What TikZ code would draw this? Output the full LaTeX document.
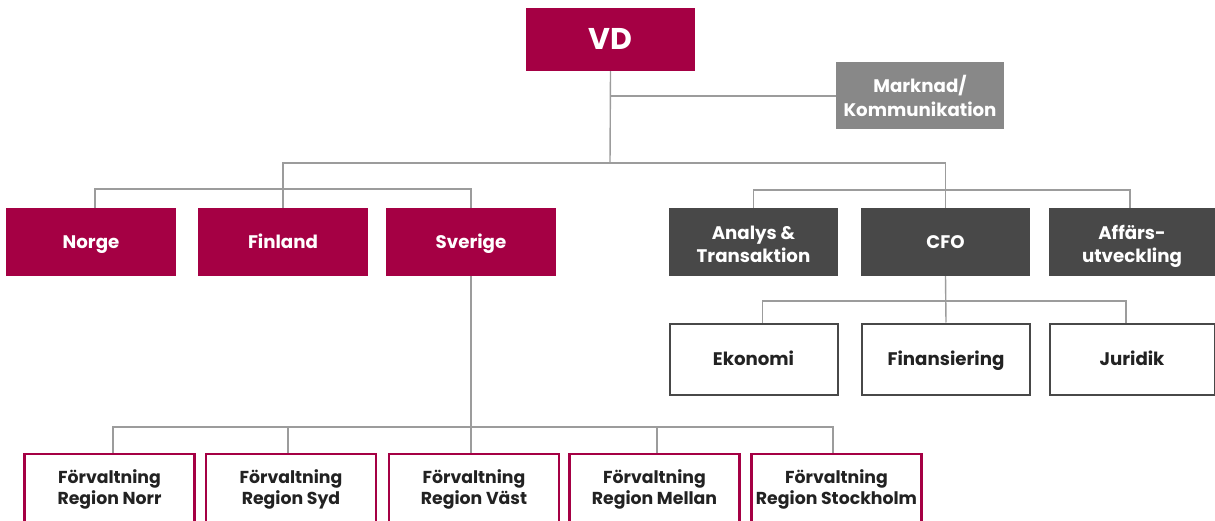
\documentclass[tikz,border=0pt]{standalone}
\usepackage{fontspec}
\setmainfont{Poppins}
\usetikzlibrary{calc}
\definecolor{crim}{HTML}{A50044}
\definecolor{dgray}{HTML}{484848}
\definecolor{mgray}{HTML}{888888}
\definecolor{lgray}{HTML}{9C9C9C}
\definecolor{txt}{HTML}{222222}
\tikzset{
  base/.style={rectangle, inner sep=0pt, align=center, font=\fontsize{18.2}{23.5}\selectfont\bfseries},
  one/.style={text height=12.8pt, text depth=0pt},
  two/.style={text height=42pt, text depth=0pt},
  redbox/.style={base, fill=crim, text=white, minimum width=170pt, minimum height=68pt},
  darkbox/.style={base, fill=dgray, text=white, minimum width=170pt, minimum height=68pt},
  graybox/.style={base, fill=mgray, text=white, minimum width=168pt, minimum height=67pt},
  whitebox/.style={base, one, fill=white, draw=dgray, line width=2pt, text=txt, minimum width=168pt, minimum height=71pt},
  regbox/.style={base, font=\fontsize{17.3}{21}\selectfont\bfseries, fill=white, draw=crim, line width=2.5pt, text=txt, minimum width=170pt, minimum height=70pt},
  conn/.style={draw=lgray, line width=1.4pt}
}
\begin{document}
\begin{tikzpicture}[x=1pt,y=-1pt]
\useasboundingbox (0,0) rectangle (1215,521);
\clip (0,0) rectangle (1215,521);
\coordinate (j0) at (610,163);
\coordinate (h1) at (0,189);
\coordinate (h2) at (0,190);
\coordinate (h3) at (0,301);
\coordinate (h4) at (0,427);

\node[redbox, one, minimum width=169pt, minimum height=63pt, font=\fontsize{30}{34}\selectfont\bfseries, text height=21pt] (vd) at (610.5,39.5) {VD};
\node[graybox, two] (mark) at (920,95.5) {Marknad/\\Kommunikation};

\node[redbox, one] (norge) at (91,242) {Norge};
\node[redbox, one] (fin) at (283,242) {Finland};
\node[redbox, one] (sve) at (471,242) {Sverige};

\node[darkbox, two, minimum width=169pt] (ana) at (753.5,242) {Analys \&\\Transaktion};
\node[darkbox, one, minimum width=169pt] (cfo) at (945.5,242) {CFO};
\node[darkbox, two, minimum width=166pt] (aff) at (1132,242) {Affärs-\\utveckling};

\node[whitebox] (eko) at (753.5,359) {Ekonomi};
\node[whitebox] (finan) at (946,359) {Finansiering};
\node[whitebox, minimum width=165pt] (jur) at (1132,359) {Juridik};

\node[regbox] (r1) at (109.5,489) {Förvaltning\\Region Norr};
\node[regbox] (r2) at (291,489) {Förvaltning\\Region Syd};
\node[regbox] (r3) at (474,489) {Förvaltning\\Region Väst};
\node[regbox] (r4) at (654.5,489) {Förvaltning\\Region Mellan};
\node[regbox] (r5) at (836.5,489) {Förvaltning\\Region Stockholm};

\draw[conn] (vd.south) -- (j0);
\draw[conn] (vd.south |- 0,96) -- (mark.west |- 0,96);
\draw[conn] (fin.north) |- (j0) -| (cfo.north);
\draw[conn] ([xshift=4pt]norge.north) |- (sve.north |- h1) -- (sve.north);
\draw[conn] (ana.north) |- ([xshift=-2pt]aff.north |- h2) -- ([xshift=-2pt]aff.north);
\draw[conn] (cfo.south) -- (finan.north);
\draw[conn] ([xshift=9pt]eko.north) |- ([xshift=-6pt]jur.north |- h3) -- ([xshift=-6pt]jur.north);
\draw[conn] (sve.south) -- (sve.south |- r3.north);
\draw[conn] ([xshift=3.5pt]r1.north) |- ([xshift=-3.5pt]r5.north |- h4) -- ([xshift=-3.5pt]r5.north);
\draw[conn] ([xshift=-3pt]r2.north) -- ([xshift=-3pt]r2.north |- h4);
\draw[conn] ([xshift=2.5pt]r4.north) -- ([xshift=2.5pt]r4.north |- h4);
\end{tikzpicture}
\end{document}
